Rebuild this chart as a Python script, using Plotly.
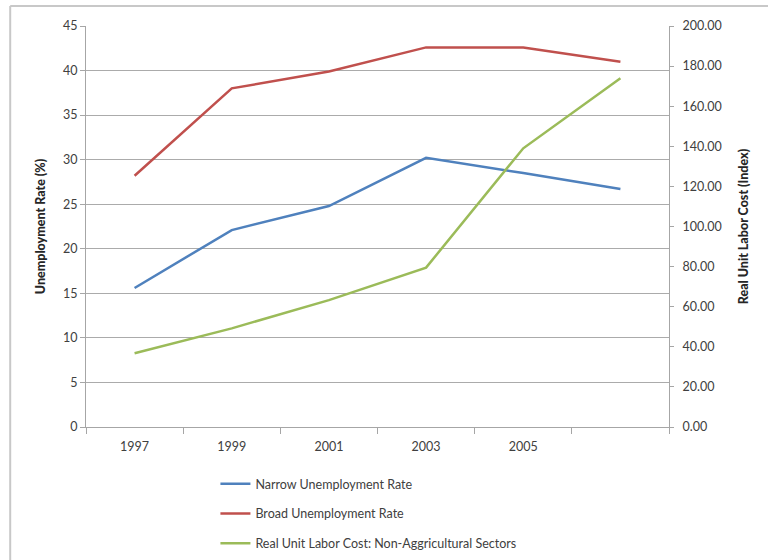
import plotly.graph_objects as go

# Survey years (one category per observation)
years = ["1997", "1999", "2001", "2003", "2005", "2007"]
year_labels = ["1997", "1999", "2001", "2003", "2005", ""]

# Unemployment rates, percent (left axis)
narrow_rate = [15.6, 22.1, 24.8, 30.2, 28.5, 26.7]
broad_rate = [28.2, 38.0, 39.9, 42.6, 42.6, 41.0]

# Real unit labour cost index, non-agricultural sectors (right axis)
labor_cost = [36.8, 49.2, 63.3, 79.5, 139.0, 173.9]

left_ticks = list(range(0, 50, 5))
right_ticks = list(range(0, 220, 20))

FONT = "Lato, 'Open Sans', sans-serif"
AXIS_GRAY = "#A6A6A6"
GRID_GRAY = "#ABABAB"

fig = go.Figure()
fig.add_trace(go.Scatter(
    x=years, y=narrow_rate, name="Narrow Unemployment Rate",
    mode="lines", line=dict(color="#4F81BD", width=2.5),
    legendgroup="a"))
fig.add_trace(go.Scatter(
    x=years, y=broad_rate, name="Broad Unemployment Rate",
    mode="lines", line=dict(color="#C0504D", width=2.5),
    legendgroup="b"))
fig.add_trace(go.Scatter(
    x=years, y=labor_cost, name="Real Unit Labor Cost: Non-Aggricultural Sectors",
    mode="lines", line=dict(color="#9BBB59", width=2.5),
    yaxis="y2", legendgroup="c"))

fig.update_layout(
    width=768, height=560,
    margin=dict(l=86, r=99, t=26, b=133, autoexpand=False),
    paper_bgcolor="white", plot_bgcolor="white",
    font=dict(family=FONT, size=12, color="#333333"),
    showlegend=True,
    legend=dict(
        x=0.222, y=-0.105, xanchor="left", yanchor="top",
        orientation="v", tracegroupgap=10.5,
        font=dict(family=FONT, size=12.5, color="#404040"),
        itemwidth=30, bgcolor="rgba(0,0,0,0)"),
    xaxis=dict(
        type="category", range=[-0.5, 5.5],
        tickmode="array", tickvals=years, ticktext=year_labels,
        tickson="boundaries", ticks="outside", ticklen=6,
        ticklabelstandoff=8,
        tickcolor=AXIS_GRAY, showline=True, linecolor=AXIS_GRAY,
        showgrid=False, zeroline=False,
        tickfont=dict(size=12.5, color="#404040")),
    yaxis=dict(
        range=[0, 45], tickmode="array", tickvals=left_ticks,
        ticks="outside", ticklen=5, tickcolor=AXIS_GRAY,
        showline=True, linecolor=AXIS_GRAY,
        showgrid=True, gridcolor=GRID_GRAY, gridwidth=1.3,
        zeroline=False,
        tickfont=dict(size=12.5, color="#404040"),
        title=dict(text="Unemployment Rate (%)", standoff=14,
                   font=dict(size=12.5, color="#262626",
                             family="Lato Black, Lato, sans-serif"))),
    yaxis2=dict(
        range=[0, 200], overlaying="y", side="right",
        tickmode="array", tickvals=right_ticks, tickformat=".2f",
        ticks="outside", ticklen=4, tickcolor=AXIS_GRAY,
        ticklabelstandoff=6,
        showline=True, linecolor=AXIS_GRAY,
        showgrid=False, zeroline=False,
        tickfont=dict(size=12.5, color="#404040"),
        title=dict(text="Real Unit Labor Cost (Index)", standoff=18,
                   font=dict(size=12.5, color="#262626",
                             family="Lato Black, Lato, sans-serif"))),
)

# Chart frame
fig.add_shape(type="line", xref="paper", yref="paper",
              x0=-0.130, x1=1.2, y0=1.0499, y1=1.0499,
              line=dict(color="#C8C8C8", width=2))
fig.add_shape(type="line", xref="paper", yref="paper",
              x0=-0.130, x1=-0.130, y0=1.0499, y1=-0.4,
              line=dict(color="#C8C8C8", width=2))

fig.write_html("out.html")
